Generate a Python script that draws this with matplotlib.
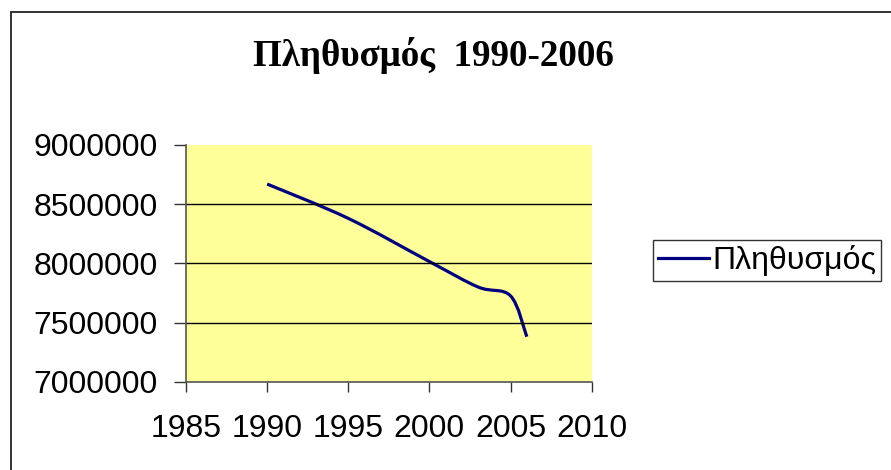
import numpy as np
import matplotlib
matplotlib.use('Agg')
import matplotlib.pyplot as plt
from matplotlib.path import Path
from matplotlib.patches import PathPatch, Rectangle
from matplotlib.lines import Line2D

# data
years = [1990, 1995, 2000, 2003, 2005, 2006]
plithysmos = [8670000, 8380000, 8015000, 7800000, 7725000, 7380000]
x_ticks = [1985, 1990, 1995, 2000, 2005, 2010]
y_ticks = [7000000, 7500000, 8000000, 8500000, 9000000]
titlos = 'Πληθυσμός  1990-2006'
onoma = 'Πληθυσμός'

def smooth_path(xs, ys, t=1/6.):
	# excel-like smoothed line: cubic bezier through the points
	p = np.column_stack([xs, ys]).astype(float)
	ext = np.vstack([p[0], p, p[-1]])
	verts = [p[0]]
	codes = [Path.MOVETO]
	for i in range(len(p) - 1):
		c1 = ext[i+1] + (ext[i+2] - ext[i]) * t
		c2 = ext[i+2] - (ext[i+3] - ext[i+1]) * t
		verts += [c1, c2, ext[i+2]]
		codes += [Path.CURVE4] * 3
	return Path(verts, codes)

plt.rcParams['font.family'] = ['Liberation Sans', 'DejaVu Sans']

fig = plt.figure(figsize=(8.91, 4.70), dpi=100)
fig.patch.set_facecolor('white')
fig.patches.append(Rectangle((11/891., -0.1), 1.2, 1 - 12/470. + 0.1, transform=fig.transFigure,
	fill=False, edgecolor='#222222', lw=1.3))

ax = fig.add_axes([186/891., (470-381.7)/470., 405.7/891., 236.7/470.])
ax.set_facecolor('#FFFF99')
ax.add_patch(PathPatch(smooth_path(years, plithysmos), fill=False, edgecolor='#000080', lw=2.3,
	capstyle='butt'))

ax.set_xlim(1985, 2010)
ax.set_ylim(7000000, 9000000)
ax.set_xticks(x_ticks)
ax.set_yticks(y_ticks)
ax.set_xticklabels([str(v) for v in x_ticks])
ax.set_yticklabels([str(v) for v in y_ticks])
ax.tick_params(axis='both', labelsize=23, width=1, color='#333333', direction='out')
ax.tick_params(axis='y', length=8.5, pad=12)
ax.tick_params(axis='x', length=7.5, pad=16)
ax.yaxis.grid(True, color='black', lw=1)
ax.get_ygridlines()[-1].set_visible(False)
ax.get_ygridlines()[0].set_visible(False)
for s in ['top', 'right']:
	ax.spines[s].set_visible(False)
for s in ['left', 'bottom']:
	ax.spines[s].set_color('#555555')
	ax.spines[s].set_linewidth(1.2)

fig.text(433/891., 1 - 55/470., titlos, ha='center', va='center',
	family='Liberation Serif', weight='bold', fontsize=26.7)

h = Line2D([], [], color='#000080', lw=2.3)
leg = fig.legend([h], [onoma], loc='upper left', bbox_to_anchor=(653/891., 1 - 240/470.),
	fontsize=23, frameon=True, fancybox=False, borderpad=0.15, handlelength=1.6,
	handletextpad=0.1, borderaxespad=0)
leg.get_frame().set_edgecolor('black')
leg.get_frame().set_linewidth(1.0)

fig.savefig('out.png', dpi=100)
